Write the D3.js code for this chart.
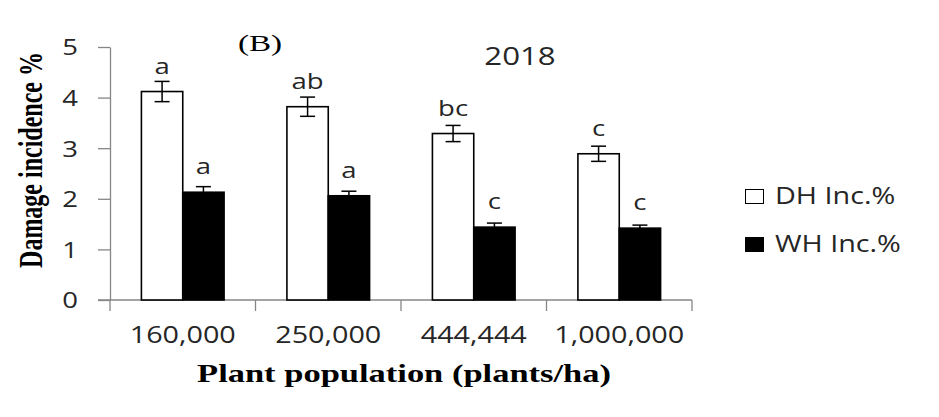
<!DOCTYPE html>
<html>
<head>
<meta charset="utf-8">
<script src="https://cdn.jsdelivr.net/npm/d3@7"></script>
<style>
  html, body { margin: 0; padding: 0; background: #fff; }
  svg { display: block; }
</style>
</head>
<body>
<svg id="chart" width="939" height="417"></svg>
<script>
const categories = ["160,000", "250,000", "444,444", "1,000,000"];
const seriesNames = ["DH Inc.%", "WH Inc.%"];
const dhValues = [4.12, 3.82, 3.29, 2.89];
const dhErrors = [0.20, 0.19, 0.16, 0.15];
const whValues = [2.13, 2.06, 1.44, 1.42];
const whErrors = [0.11, 0.09, 0.08, 0.06];
const dhLetters = ["a", "ab", "bc", "c"];
const whLetters = ["a", "a", "c", "c"];
const yTicks = [0, 1, 2, 3, 4, 5];
const yTitle = "Damage incidence %";
const xTitle = "Plant population (plants/ha)";
const panelLabel = "(B)";
const yearLabel = "2018";

const svg = d3.select("#chart");
const SANS = "'Open Sans', 'Noto Sans', sans-serif";
const SERIF = "'Liberation Serif', 'Times New Roman', serif";
const sxSans = 1.25, sxSerif = 1.38;
const axisColor = "#868686";
const textColor = "#262626";

const y = d3.scaleLinear().domain([0, 5]).range([300, 47]);
const x0 = d3.scaleBand().domain(categories).range([110, 692]);
const x1 = d3.scaleBand().domain(seriesNames).range([0, x0.bandwidth()])
  .paddingInner(0).paddingOuter(0.76);

const rows = categories.map((c, i) => ({
  cat: c,
  bars: [
    {s: seriesNames[0], v: dhValues[i], e: dhErrors[i], l: dhLetters[i]},
    {s: seriesNames[1], v: whValues[i], e: whErrors[i], l: whLetters[i]}
  ]
}));

function stretchedText(g, x, yPos, txt, opts) {
  const t = g.append("text")
    .attr("transform", `translate(${x},${yPos}) scale(${opts.sx},1)` + (opts.rotate ? ` rotate(${opts.rotate})` : ""))
    .attr("text-anchor", opts.anchor || "middle")
    .attr("font-family", opts.family)
    .attr("font-size", opts.size)
    .attr("font-weight", opts.weight || "normal")
    .attr("fill", opts.fill || textColor)
    .text(txt);
  return t;
}

// Y axis
const yAxis = svg.append("g").attr("transform", "translate(110,0)")
  .call(d3.axisLeft(y).tickValues(yTicks).tickSize(12).tickSizeOuter(0));
yAxis.select(".domain").attr("stroke", axisColor).attr("stroke-width", 1.3);
yAxis.selectAll(".tick line").attr("stroke", axisColor).attr("stroke-width", 1.3);
yAxis.selectAll(".tick text").remove();
yAxis.selectAll(".tick").each(function(d) {
  stretchedText(d3.select(this), -32, 0, d3.format("d")(d), {
    sx: sxSans, anchor: "end", family: SANS, size: 22
  }).attr("dy", "0.36em");
});

// X axis line and boundary ticks
svg.append("line")
  .attr("x1", 98).attr("x2", x0.range()[1])
  .attr("y1", y(0)).attr("y2", y(0))
  .attr("stroke", axisColor).attr("stroke-width", 1.3);
const boundaries = categories.map(c => x0(c)).concat([x0.range()[1]]);
svg.selectAll(".xb").data(boundaries).enter().append("line")
  .attr("x1", d => d).attr("x2", d => d)
  .attr("y1", y(0)).attr("y2", y(0) + 11)
  .attr("stroke", axisColor).attr("stroke-width", 1.3);

const xAxis = svg.append("g").attr("transform", `translate(0,${y(0)})`)
  .call(d3.axisBottom(x0).tickSize(0).tickSizeOuter(0));
xAxis.select(".domain").remove();
xAxis.selectAll(".tick text").remove();
xAxis.selectAll(".tick").each(function(d) {
  stretchedText(d3.select(this), 0, 43, d, {sx: sxSans, family: SANS, size: 23});
});

// Bars
const groups = svg.selectAll(".grp").data(rows).enter().append("g")
  .attr("transform", d => `translate(${x0(d.cat)},0)`);

groups.selectAll("rect").data(d => d.bars).enter().append("rect")
  .attr("x", d => x1(d.s))
  .attr("y", d => y(d.v))
  .attr("width", x1.bandwidth())
  .attr("height", d => y(0) - y(d.v))
  .attr("fill", (d, i) => i === 0 ? "#fff" : "#000")
  .attr("stroke", "#000")
  .attr("stroke-width", 1.6);

// Error bars
const eb = groups.selectAll(".eb").data(d => d.bars).enter().append("g")
  .attr("stroke", "#000").attr("stroke-width", 1.5);
eb.append("line")
  .attr("x1", d => x1(d.s) + x1.bandwidth() / 2)
  .attr("x2", d => x1(d.s) + x1.bandwidth() / 2)
  .attr("y1", d => y(d.v - d.e)).attr("y2", d => y(d.v + d.e));
eb.append("line")
  .attr("x1", d => x1(d.s) + x1.bandwidth() / 2 - 7.5)
  .attr("x2", d => x1(d.s) + x1.bandwidth() / 2 + 7.5)
  .attr("y1", d => y(d.v + d.e)).attr("y2", d => y(d.v + d.e));
eb.append("line")
  .attr("x1", d => x1(d.s) + x1.bandwidth() / 2 - 7.5)
  .attr("x2", d => x1(d.s) + x1.bandwidth() / 2 + 7.5)
  .attr("y1", d => y(d.v - d.e)).attr("y2", d => y(d.v - d.e));

// Letters
groups.each(function(row) {
  const g = d3.select(this);
  row.bars.forEach(b => {
    stretchedText(g, x1(b.s) + x1.bandwidth() / 2, y(b.v) - 18, b.l, {
      sx: sxSans, family: SANS, size: 22
    });
  });
});

// Titles
stretchedText(svg, 42, 160, yTitle, {
  sx: sxSerif, rotate: -90, family: SERIF, size: 24, weight: "bold", fill: "#000"
});
stretchedText(svg, 404, 382, xTitle, {
  sx: sxSerif, family: SERIF, size: 25, weight: "bold", fill: "#000"
});
stretchedText(svg, 260, 51, panelLabel, {
  sx: sxSerif, family: SERIF, size: 24, fill: "#000"
});
stretchedText(svg, 520, 65, yearLabel, {
  sx: sxSans, family: SANS, size: 25
});

// Legend
const legend = svg.append("g");
seriesNames.forEach((s, i) => {
  const ly = 189 + i * 48;
  legend.append("rect")
    .attr("x", 745.5).attr("y", ly + 0.5)
    .attr("width", 18).attr("height", 14)
    .attr("fill", i === 0 ? "#fff" : "#000")
    .attr("stroke", "#000").attr("stroke-width", 1);
  stretchedText(legend, 775, ly + 14.5, s, {
    sx: sxSans, anchor: "start", family: SANS, size: 23
  });
});
</script>
</body>
</html>
